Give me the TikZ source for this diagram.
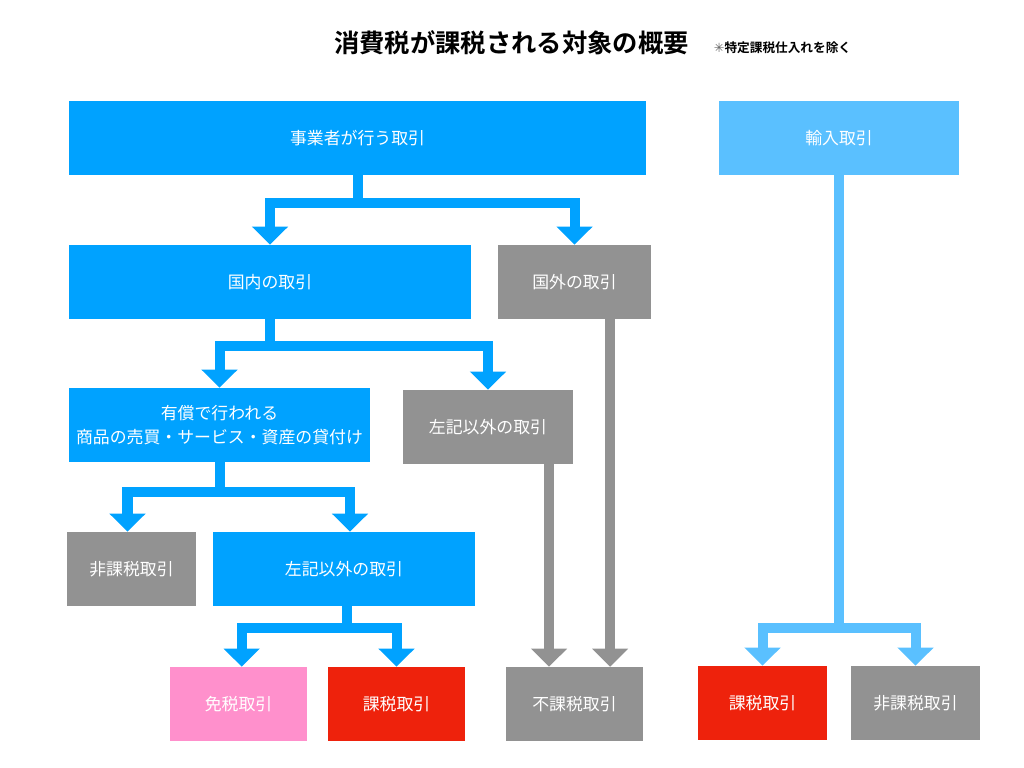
\documentclass[tikz,border=0pt]{standalone}
\usepackage{fontspec}
\setmainfont{Noto Sans CJK JP}[BoldFont={Noto Sans CJK JP Bold}]
\newfontfamily\symfont{DejaVu Sans}
\usepackage{tikz}
\usetikzlibrary{arrows.meta}
\usepackage{xcolor}

\definecolor{boxblue}{HTML}{00A2FF}
\definecolor{boxlight}{HTML}{5AC0FF}
\definecolor{boxgray}{HTML}{929292}
\definecolor{boxred}{HTML}{EE220C}
\definecolor{boxpink}{HTML}{FF90CC}

\tikzset{
  box/.style={rectangle, minimum height=1.85cm, inner sep=0pt, text=white,
              font=\fontsize{12}{17}\selectfont, align=center},
  flow/.style={line width=0.25cm, -{Triangle[width=0.875cm,length=0.45cm]}},
}

\begin{document}
\begin{tikzpicture}[x=0.025cm,y=-0.025cm]
\useasboundingbox (0,0) rectangle (1024,768);
% title
\node (title) at (511.5,43) {\fontsize{18}{20}\selectfont\bfseries 消費税が課税される対象の概要};
\node[anchor=base west, inner sep=0pt] (note) at ([xshift=0.5cm]title.base east)
  {\fontsize{9}{10}\selectfont{\symfont\color{black!60}✳}\bfseries 特定課税仕入れを除く};
% boxes
\node[box, fill=boxblue,  minimum width=14.425cm] (biz)  at (357.5,138) {事業者が行う取引};
\node[box, fill=boxlight, minimum width=6cm]      (imp)  at (839,138)   {輸入取引};
\node[box, fill=boxblue,  minimum width=10.05cm]  (dom)  at (270,282)   {国内の取引};
\node[box, fill=boxgray,  minimum width=3.825cm]  (frn)  at (574.5,282) {国外の取引};
\node[box, fill=boxblue,  minimum width=7.525cm]  (paid) at (219.5,425) {有償で行われる\\商品の売買・サービス・資産の貸付け};
\node[box, fill=boxgray,  minimum width=4.25cm]   (oth1) at (488,427)   {左記以外の取引};
\node[box, fill=boxgray,  minimum width=3.225cm]  (ntx1) at (131.5,569) {非課税取引};
\node[box, fill=boxblue,  minimum width=6.55cm]   (oth2) at (344,569)   {左記以外の取引};
\node[box, fill=boxpink,  minimum width=3.425cm]  (exm)  at (238.5,704) {免税取引};
\node[box, fill=boxred,   minimum width=3.425cm]  (tax1) at (396.5,704) {課税取引};
\node[box, fill=boxgray,  minimum width=3.425cm]  (untx) at (574.5,704) {不課税取引};
\node[box, fill=boxred,   minimum width=3.225cm]  (tax2) at (762.5,703) {課税取引};
\node[box, fill=boxgray,  minimum width=3.225cm]  (ntx2) at (915.5,703) {非課税取引};
% connectors
\draw[flow, boxblue] (biz.south) -- ++(0,28) -| (dom.north);
\draw[flow, boxblue] (biz.south) -- ++(0,28) -| (frn.north);
\draw[flow, boxblue] (dom.south) -- ++(0,27) -| (paid.north);
\draw[flow, boxblue] (dom.south) -- ++(0,27) -| (oth1.north);
\draw[flow, boxblue] (paid.south) -- ++(0,30) -| ([xshift=-0.1cm]ntx1.north);
\draw[flow, boxblue] (paid.south) -- ++(0,30) -| ([xshift=0.15cm]oth2.north);
\draw[flow, boxblue] ([xshift=0.08cm]oth2.south) -- ++(0,22) -| ([xshift=0.08cm]exm.north);
\draw[flow, boxblue] ([xshift=0.08cm]oth2.south) -- ++(0,22) -| (tax1.north);
\draw[flow, boxgray] ([xshift=1.525cm]oth1.south) -- ([xshift=1.525cm]oth1.south |- untx.north);
\draw[flow, boxgray] ([xshift=0.89cm]frn.south) -- ([xshift=0.89cm]frn.south |- untx.north);
\draw[flow, boxlight] (imp.south) -- ++(0,453) -| (tax2.north);
\draw[flow, boxlight] (imp.south) -- ++(0,453) -| (ntx2.north);
\end{tikzpicture}
\end{document}
